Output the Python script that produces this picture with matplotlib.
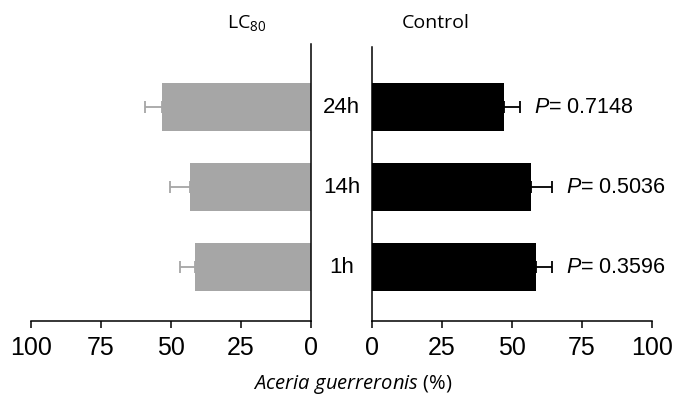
import matplotlib
matplotlib.use('Agg')
import matplotlib.pyplot as plt
import numpy as np

plt.rcParams['mathtext.fontset'] = 'custom'
plt.rcParams['mathtext.rm'] = 'Open Sans'
plt.rcParams['mathtext.it'] = 'Open Sans:italic'
plt.rcParams['mathtext.sf'] = 'Liberation Sans:italic'

# datos
tiempos = ['1h', '14h', '24h']
lc80 = [41.5, 43.2, 53.2]
lc80_err = [5.3, 7.2, 6.1]
control = [58.6, 56.9, 47.0]
control_err = [5.7, 7.5, 5.9]
p_valores = ['0.3596', '0.5036', '0.7148']
ticks = [0, 25, 50, 75, 100]

tick_font = 'Liberation Sans'
y = np.arange(len(tiempos))

fig = plt.figure(figsize=(6.74, 3.97), dpi=100)
ax1 = fig.add_axes([31/674, 1-321/397, 280/674, 277/397])
ax2 = fig.add_axes([372/674, 1-321/397, 280/674, 277/397])

# LC80 (izquierda)
ax1.barh(y, lc80, height=0.6, color='#a6a6a6')
ax1.errorbar(lc80, y, xerr=[np.zeros(3), lc80_err], fmt='none',
             ecolor='#a6a6a6', elinewidth=1.3, capsize=4, capthick=1.3)
ax1.set_xlim(100, 0)

# Control (derecha)
ax2.barh(y, control, height=0.6, color='black')
ax2.errorbar(control, y, xerr=[np.zeros(3), control_err], fmt='none',
             ecolor='black', elinewidth=1.3, capsize=4, capthick=1.3)
ax2.set_xlim(0, 100)
for yi, c, e, p in zip(y, control, control_err, p_valores):
    ax2.text(c + e + 5, yi, r'$\mathsf{P}$= ' + p, va='center', ha='left',
             fontsize=15.5, family=tick_font)

for ax in (ax1, ax2):
    ax.set_ylim(-0.675, 2.79)
    ax.set_yticks([])
    ax.set_xticks(ticks)
    ax.spines['top'].set_visible(False)
    for s in ax.spines.values():
        s.set_linewidth(1.1)
    ax.tick_params(axis='x', direction='out', length=5, width=1.1, pad=6,
                   labelsize=18)
    for lb in ax.get_xticklabels():
        lb.set_family(tick_font)
ax1.spines['left'].set_visible(False)
ax2.spines['right'].set_visible(False)
ax2.spines['left'].set_bounds(-0.675, 2.75)

# etiquetas de tiempo entre los paneles
for yi, t in zip(y, tiempos):
    ax1.annotate(t, xy=(1.0, yi), xycoords=('axes fraction', 'data'),
                 xytext=(341.5 - 311, 0), textcoords='offset pixels',
                 ha='center', va='center', fontsize=16, family=tick_font)

fig.text(247/674, 1-23/397, r'LC$_{80}$', ha='center', va='center',
         fontsize=14, family='Open Sans')
fig.text(436/674, 1-23/397, 'Control', ha='center', va='center',
         fontsize=14, family='Open Sans')
fig.text(353/674, 1-385/397, r'$Aceria\ guerreronis$ (%)', ha='center',
         va='center', fontsize=14.5, family='Open Sans')

fig.savefig('out.png', dpi=100)
